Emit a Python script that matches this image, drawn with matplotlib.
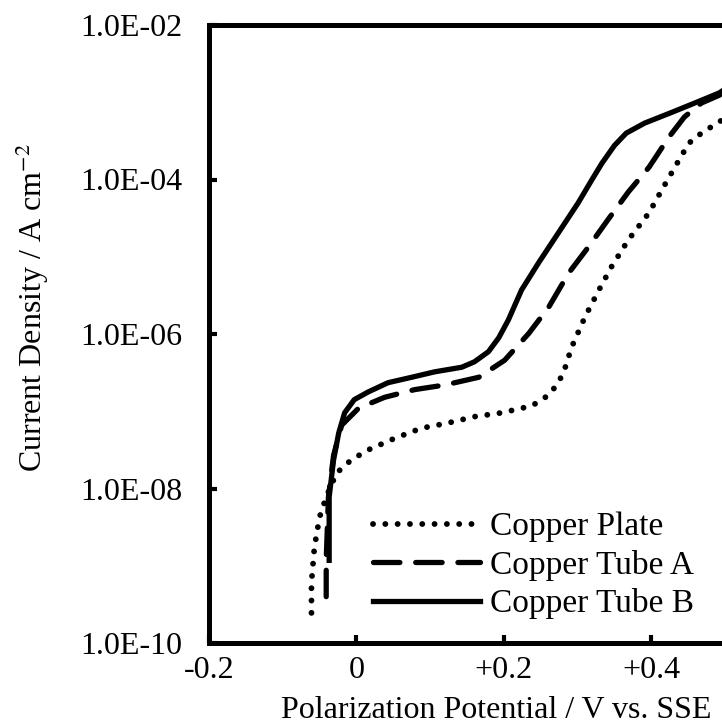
import matplotlib.pyplot as plt
import numpy as np

plt.rcParams['font.family'] = ['Liberation Serif', 'DejaVu Serif']
plt.rcParams['mathtext.fontset'] = 'stix'

# Copper Plate (dotted): potential / V, log10(current density)
plate_v = [-0.061, -0.061, -0.057, -0.050, -0.041, -0.027, -0.007, 0.016, 0.052, 0.088,
           0.125, 0.160, 0.197, 0.238, 0.261, 0.274, 0.282, 0.292, 0.310, 0.329,
           0.346, 0.369, 0.397, 0.414, 0.432, 0.451, 0.468, 0.496]
plate_log = [-9.61, -9.22, -8.76, -8.37, -8.11, -7.80, -7.63, -7.50, -7.35, -7.22,
             -7.15, -7.07, -7.02, -6.93, -6.79, -6.63, -6.47, -6.17, -5.78, -5.43,
             -5.13, -4.78, -4.43, -4.14, -3.84, -3.53, -3.40, -3.23]

# Copper Tube A (dashed)
tubea_v = [-0.041, -0.041, -0.038, -0.031, -0.020, 0.003, 0.038, 0.079, 0.120, 0.166,
           0.201, 0.234, 0.261, 0.288, 0.315, 0.342, 0.369, 0.397, 0.424, 0.445,
           0.468, 0.492, 0.500]
tubea_log = [-9.40, -8.93, -8.11, -7.57, -7.18, -6.96, -6.82, -6.72, -6.66, -6.56,
             -6.34, -5.99, -5.65, -5.21, -4.87, -4.51, -4.16, -3.84, -3.45, -3.19,
             -3.01, -2.91, -2.86]

# Copper Tube B (solid)
tubeb_v = [-0.037, -0.037, -0.031, -0.024, -0.016, -0.003, 0.016, 0.043, 0.075, 0.106,
           0.143, 0.160, 0.179, 0.193, 0.206, 0.224, 0.247, 0.274, 0.301, 0.319,
           0.333, 0.350, 0.366, 0.391, 0.428, 0.459, 0.492, 0.500]
tubeb_log = [-8.93, -8.11, -7.63, -7.28, -7.02, -6.85, -6.75, -6.63, -6.56, -6.49,
             -6.43, -6.36, -6.23, -6.05, -5.82, -5.43, -5.08, -4.69, -4.30, -4.01,
             -3.79, -3.56, -3.40, -3.27, -3.13, -3.01, -2.88, -2.83]

yticks = [1e-10, 1e-8, 1e-6, 1e-4, 1e-2]
ytick_labels = ['1.0E-10', '1.0E-08', '1.0E-06', '1.0E-04', '1.0E-02']
xticks = [-0.2, 0, 0.2, 0.4]
xtick_labels = ['-0.2', '0', '+0.2', '+0.4']

fs = 23
fig = plt.figure(figsize=(7.22, 7.25), dpi=100)
ax = fig.add_axes([209/722, 1 - 643/725, (725 - 209)/722, (643 - 25)/725])

ax.plot(plate_v, 10 ** np.array(plate_log), color='black', lw=4.2,
        linestyle=(0, (0.01, 2.1)), dash_capstyle='round', label='Copper Plate')
ax.plot(tubea_v, 10 ** np.array(tubea_log), color='black', lw=3.8,
        linestyle=(0, (5, 3)), dash_capstyle='round', label='Copper Tube A')
ax.plot(tubeb_v, 10 ** np.array(tubeb_log), color='black', lw=3.8,
        solid_joinstyle='round', label='Copper Tube B')

ax.set_yscale('log')
ax.set_xlim(-0.2, 0.5)
ax.set_ylim(1e-10, 1e-2)
ax.set_yticks(yticks)
ax.set_yticklabels(ytick_labels)
ax.minorticks_off()
ax.set_xticks(xticks)
ax.set_xticklabels(xtick_labels)
ax.tick_params(axis='both', direction='in', length=6, width=3, labelsize=fs)
ax.tick_params(axis='y', pad=19)
ax.tick_params(axis='x', pad=9)
for s in ax.spines.values():
    s.set_linewidth(3.6)

ax.set_xlabel('Polarization Potential / V vs. SSE', fontsize=fs)
ax.xaxis.set_label_coords(0.556, -0.085)
fig.text(0.044, 1 - 308/725, 'Current Density / A cm$^{-2}$', fontsize=fs,
         rotation=90, ha='center', va='center')

ax.legend(loc='upper left', bbox_to_anchor=((373 - 209)/516, (643 - 512)/618),
          frameon=False, fontsize=24, handlelength=3.2, handletextpad=0.3,
          labelspacing=0.22, borderpad=0, borderaxespad=0)

fig.savefig('out.png', dpi=100)
